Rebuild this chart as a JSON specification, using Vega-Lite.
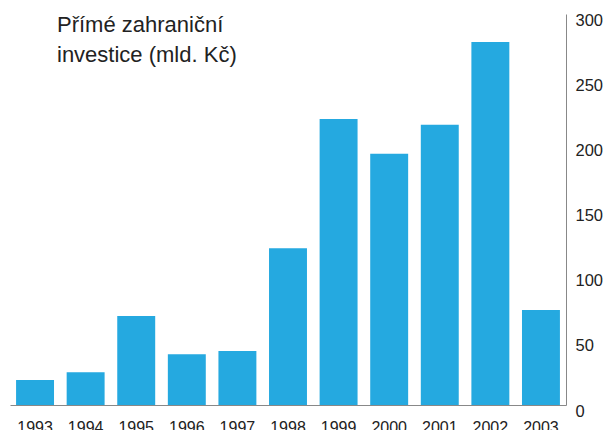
{
  "$schema": "https://vega.github.io/schema/vega-lite/v6.json",
  "width": 556,
  "height": 391,
  "autosize": {"type": "none"},
  "padding": {"left": 10, "top": 14, "right": 46, "bottom": 25},
  "background": "white",
  "title": {
    "text": ["Přímé zahraniční", "investice (mld. Kč)"],
    "anchor": "start",
    "frame": "group",
    "orient": "top",
    "baseline": "top",
    "font": "Liberation Sans",
    "fontSize": 22,
    "fontWeight": "normal",
    "lineHeight": 30,
    "color": "#222222",
    "dx": 47,
    "dy": 55,
    "offset": 0
  },
  "data": {
    "values": [
      {"year": "1993", "value": 19.2},
      {"year": "1994", "value": 25.1},
      {"year": "1995", "value": 68.3},
      {"year": "1996", "value": 38.9},
      {"year": "1997", "value": 41.4},
      {"year": "1998", "value": 120.2},
      {"year": "1999", "value": 219.4},
      {"year": "2000", "value": 192.8},
      {"year": "2001", "value": 215.1},
      {"year": "2002", "value": 278.5},
      {"year": "2003", "value": 72.9}
    ]
  },
  "mark": {"type": "bar", "color": "#25a9e0"},
  "encoding": {
    "x": {
      "field": "year",
      "type": "ordinal",
      "scale": {"paddingInner": 0.25, "paddingOuter": 0.12},
      "axis": {
        "title": null,
        "labelAngle": 0,
        "ticks": false,
        "domainColor": "#888888",
        "domainWidth": 1,
        "labelPadding": 14,
        "labelFont": "Liberation Sans",
        "labelFontSize": 16,
        "labelColor": "#222222",
        "labelBaseline": "top"
      }
    },
    "y": {
      "field": "value",
      "type": "quantitative",
      "scale": {"domain": [0, 300], "nice": false},
      "axis": {
        "orient": "right",
        "title": null,
        "values": [0, 50, 100, 150, 200, 250, 300],
        "grid": false,
        "ticks": false,
        "domainColor": "#888888",
        "domainWidth": 1,
        "labelPadding": 9,
        "labelFont": "Liberation Sans",
        "labelFontSize": 16.5,
        "labelColor": "#222222",
        "labelOffset": 6
      }
    }
  },
  "config": {"view": {"stroke": null}}
}
